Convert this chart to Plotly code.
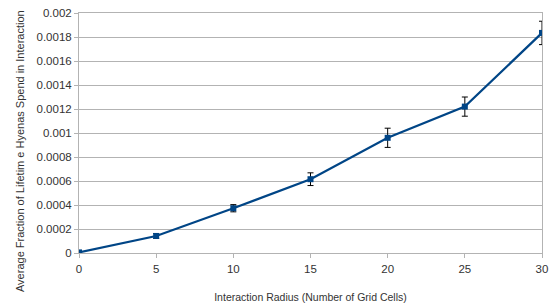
import plotly.graph_objects as go

radius = [0, 5, 10, 15, 20, 25, 30]
fraction = [0.000005, 0.000142, 0.000373, 0.000615, 0.00096, 0.00122, 0.001834]
err = [0.000005, 0.00002, 0.00003, 0.000053, 0.00008, 0.00008, 0.0000975]
yticks = [0, 0.0002, 0.0004, 0.0006, 0.0008, 0.001, 0.0012, 0.0014, 0.0016, 0.0018, 0.002]
ytick_text = ["0", "0.0002", "0.0004", "0.0006", "0.0008", "0.001", "0.0012", "0.0014", "0.0016", "0.0018", "0.002"]
x_title = "Interaction Radius (Number of Grid Cells)"
y_title = "Average Fraction of Lifetim e Hyenas Spend in Interaction"

fig = go.Figure()
fig.add_trace(go.Scatter(
    x=radius, y=fraction, mode="lines+markers",
    line=dict(color="#004586", width=2.2),
    marker=dict(symbol="square", size=6, color="#004586"),
    error_y=dict(type="data", array=err, visible=True, color="#000000", thickness=1, width=3),
))
fig.add_annotation(text=y_title, xref="paper", yref="paper", x=-0.1274, y=0.425,
                   textangle=-90, showarrow=False, xanchor="center", yanchor="middle",
                   font=dict(size=11, color="#333333"))
fig.update_layout(
    width=554, height=305,
    margin=dict(l=79, r=12, t=13, b=52),
    paper_bgcolor="white", plot_bgcolor="white",
    font=dict(family="Liberation Sans, Arial", size=11.5, color="#333333"),
    showlegend=False,
    xaxis=dict(range=[0, 30], tickvals=[0, 5, 10, 15, 20, 25, 30], showgrid=False, automargin=False,
               showline=True, linecolor="#b3b3b3", mirror=True, ticks="outside", ticklen=4,
               tickcolor="#b3b3b3", zeroline=False, ticklabelstandoff=1,
               title=dict(text=x_title, font=dict(size=10.5), standoff=19)),
    yaxis=dict(range=[0, 0.002], tickvals=yticks, ticktext=ytick_text, showgrid=True, automargin=False,
               gridcolor="#b3b3b3", gridwidth=1, showline=True, linecolor="#b3b3b3", mirror=True,
               ticks="outside", ticklen=4, tickcolor="#b3b3b3", zeroline=False, ticklabelstandoff=0),
)
fig.write_html("out.html", config={"displayModeBar": False},
               post_script="document.body.style.margin='0';document.body.style.padding='0';")
